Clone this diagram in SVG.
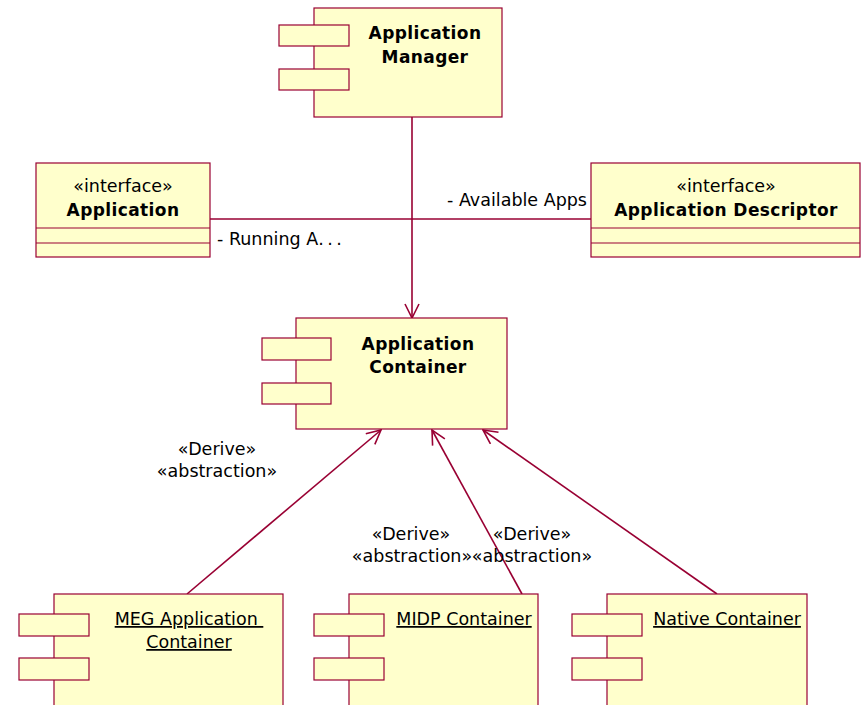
<svg xmlns="http://www.w3.org/2000/svg" width="862" height="705" viewBox="0 0 862 705">
  <defs>
    <style>
      .box { fill: #ffffcc; stroke: #990033; stroke-width: 1.2; }
      .sep { stroke: #990033; stroke-width: 1.2; fill: none; }
      .conn { stroke: #990033; stroke-width: 1.6; fill: none; }
      .title { font-family: "DejaVu Sans", "Liberation Sans", sans-serif; font-size: 17px; font-weight: bold; fill: #000; text-anchor: middle; letter-spacing: 0.4px; }
      .txt { font-family: "DejaVu Sans", "Liberation Sans", sans-serif; font-size: 17.5px; fill: #000; }
      .mid { text-anchor: middle; }
      .link { text-decoration: underline; }
    </style>
    <marker id="open" viewBox="0 0 16 16" refX="15" refY="8" markerWidth="16" markerHeight="16" markerUnits="userSpaceOnUse" orient="auto">
      <path d="M1,1 L15,8 L1,15" fill="none" stroke="#990033" stroke-width="1.6"/>
    </marker>
  </defs>

  <!-- connectors -->
  <g id="connectors">
    <line class="conn" x1="210" y1="219" x2="591" y2="219"/>
    <line class="conn" x1="412" y1="117" x2="412" y2="318" marker-end="url(#open)"/>
    <line class="conn" x1="187" y1="594" x2="381" y2="430" marker-end="url(#open)"/>
    <line class="conn" x1="522" y1="594" x2="432" y2="430" marker-end="url(#open)"/>
    <line class="conn" x1="717" y1="594" x2="483" y2="430" marker-end="url(#open)"/>
    <text class="txt" x="217" y="245" font-size="16">- Running A<tspan letter-spacing="3.5">...</tspan></text>
    <text class="txt" x="587" y="206" text-anchor="end">- Available Apps</text>
    <text class="txt mid" x="217" y="455">«Derive»</text>
    <text class="txt mid" x="217" y="477">«abstraction»</text>
    <text class="txt mid" x="411" y="540">«Derive»</text>
    <text class="txt mid" x="412" y="562">«abstraction»</text>
    <text class="txt mid" x="532" y="540">«Derive»</text>
    <text class="txt mid" x="532" y="562">«abstraction»</text>
  </g>

  <!-- Application Manager component -->
  <g id="application-manager">
    <rect class="box" x="314" y="8" width="188" height="109"/>
    <rect class="box" x="279" y="25" width="70" height="21"/>
    <rect class="box" x="279" y="69" width="70" height="21"/>
    <text class="title" x="425" y="39">Application</text>
    <text class="title" x="425" y="63">Manager</text>
  </g>

  <!-- Application interface -->
  <g id="application">
    <rect class="box" x="36" y="163" width="174" height="94"/>
    <line class="sep" x1="36" y1="228" x2="210" y2="228"/>
    <line class="sep" x1="36" y1="243" x2="210" y2="243"/>
    <text class="txt mid" x="123" y="192">«interface»</text>
    <text class="title" x="123" y="216">Application</text>
  </g>

  <!-- Application Descriptor interface -->
  <g id="application-descriptor">
    <rect class="box" x="591" y="163" width="269" height="94"/>
    <line class="sep" x1="591" y1="228" x2="860" y2="228"/>
    <line class="sep" x1="591" y1="243" x2="860" y2="243"/>
    <text class="txt mid" x="726" y="192">«interface»</text>
    <text class="title" x="726" y="216">Application Descriptor</text>
  </g>

  <!-- Application Container component -->
  <g id="application-container">
    <rect class="box" x="296" y="318" width="211" height="111"/>
    <rect class="box" x="262" y="338" width="69" height="22"/>
    <rect class="box" x="262" y="383" width="69" height="21"/>
    <text class="title" x="418" y="350">Application</text>
    <text class="title" x="418" y="373">Container</text>
  </g>

  <!-- MEG Application Container component -->
  <g id="meg-application-container">
    <rect class="box" x="54" y="594" width="229" height="120"/>
    <rect class="box" x="19" y="614" width="70" height="22"/>
    <rect class="box" x="19" y="658" width="70" height="22"/>
    <text class="txt mid link" x="189" y="625" xml:space="preserve">MEG Application </text>
    <text class="txt mid link" x="189" y="648">Container</text>
  </g>

  <!-- MIDP Container component -->
  <g id="midp-container">
    <rect class="box" x="349" y="594" width="189" height="120"/>
    <rect class="box" x="314" y="614" width="70" height="22"/>
    <rect class="box" x="314" y="658" width="70" height="22"/>
    <text class="txt mid link" x="464" y="625">MIDP Container</text>
  </g>

  <!-- Native Container component -->
  <g id="native-container">
    <rect class="box" x="607" y="594" width="200" height="120"/>
    <rect class="box" x="572" y="614" width="70" height="22"/>
    <rect class="box" x="572" y="658" width="70" height="22"/>
    <text class="txt mid link" x="727" y="625">Native Container</text>
  </g>
</svg>
